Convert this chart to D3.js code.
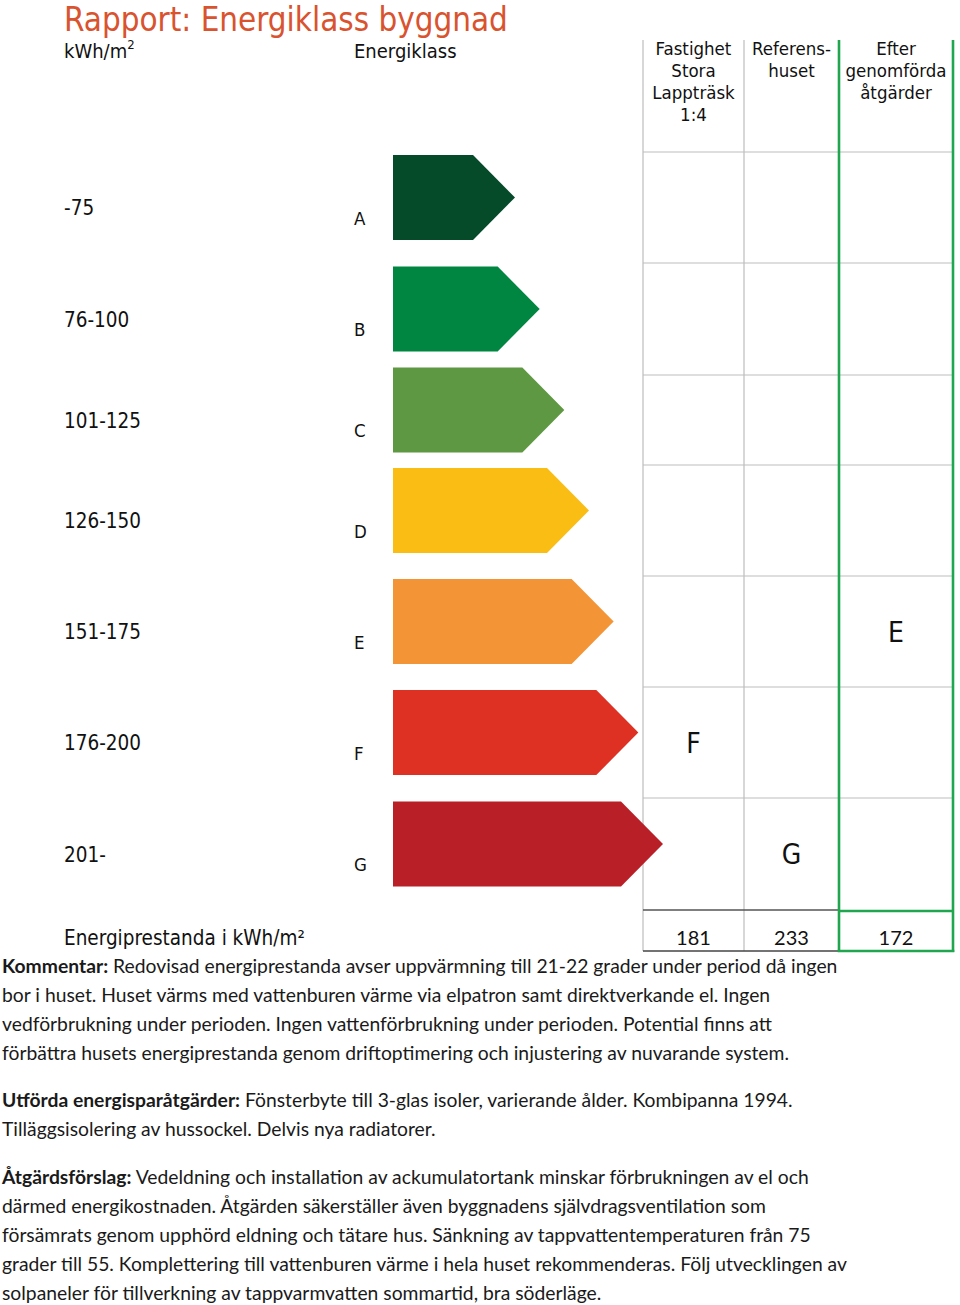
<!DOCTYPE html>
<html><head><meta charset="utf-8">
<script src="https://cdn.jsdelivr.net/npm/d3@7"></script>
<style>
html,body{margin:0;padding:0;background:#fff;}
svg{display:block;}
</style></head>
<body>
<script>
// ---------- DATA ----------
const classes = ["A","B","C","D","E","F","G"];
const rangeLabels = ["-75","76-100","101-125","126-150","151-175","176-200","201-"];
const thresholds = [76,101,126,151,176,201];
const classColors = ["#054a29","#008641","#5f9842","#f9bd14","#f39437","#de3023","#b91f26"];
const columns = [["Fastighet","Stora","Lappträsk","1:4"],["Referens-","huset"],["Efter","genomförda","åtgärder"]];
const values = [181, 233, 172];
const title = "Rapport: Energiklass byggnad";
const bodyParas = [
  [["Kommentar:", " Redovisad energiprestanda avser uppvärmning till 21-22 grader under period då ingen"],
   ["", "bor i huset. Huset värms med vattenburen värme via elpatron samt direktverkande el.  Ingen"],
   ["", "vedförbrukning under perioden. Ingen vattenförbrukning under perioden. Potential finns att"],
   ["", "förbättra husets energiprestanda genom driftoptimering och injustering av nuvarande system."]],
  [["Utförda energisparåtgärder:", " Fönsterbyte till 3-glas isoler, varierande ålder. Kombipanna 1994."],
   ["", "Tilläggsisolering av hussockel. Delvis nya radiatorer."]],
  [["Åtgärdsförslag:", " Vedeldning och installation av ackumulatortank minskar förbrukningen av el och"],
   ["", "därmed energikostnaden. Åtgärden säkerställer även byggnadens självdragsventilation som"],
   ["", "försämrats genom upphörd eldning och tätare hus. Sänkning av tappvattentemperaturen från 75"],
   ["", "grader till 55. Komplettering till vattenburen värme i hela huset rekommenderas. Följ utvecklingen av"],
   ["", "solpaneler för tillverkning av tappvarmvatten sommartid, bra söderläge."]]
];

// ---------- LAYOUT ----------
const W = 960, H = 1305;
const hdrFont = "'DejaVu Sans Condensed','DejaVu Sans',sans-serif";
const bodyFont = "Lato,'Liberation Sans',sans-serif";
const gridGray = "#bdbdbd", green = "#1fa64e";
const tableTop = 152;
const rowHeights = [111, 112, 90, 111, 111, 111, 112];   // table row heights (row C is shorter)

const svg = d3.select("body").append("svg").attr("width", W).attr("height", H);

const rowStarts = [tableTop, ...d3.cumsum(rowHeights).map(v => tableTop + v)];
const rowTop = d3.scaleOrdinal().domain(classes).range(rowStarts.slice(0, -1));
const rowH = d3.scaleOrdinal().domain(classes).range(rowHeights);
const rowMid = c => rowTop(c) + rowH(c) / 2;
const tableBottom = rowStarts[rowStarts.length - 1];
const tipX = d3.scaleLinear().domain([0, classes.length - 1]).range([515, 663]);
const classOf = d3.scaleThreshold().domain(thresholds).range(classes);
const colEdges = [643, 744, 839, 953];
const colCenter = i => (colEdges[i] + colEdges[i+1]) / 2;

function fitWidth(sel, target) {
  const w = sel.node().getComputedTextLength();
  const fs = +sel.attr("font-size");
  sel.attr("font-size", fs * target / w);
}

// Title
const t = svg.append("text").attr("x", 64).attr("y", 31)
  .attr("font-family", hdrFont).attr("font-size", 34).attr("fill", "#d9532f").text(title);
fitWidth(t, 444);

// sub headers
const k = svg.append("text").attr("x", 64).attr("y", 58).attr("font-family", hdrFont)
  .attr("font-size", 20).attr("fill", "#111");
k.append("tspan").text("kWh/m");
k.append("tspan").attr("dy", -9).attr("font-size", 13).text("2");
svg.append("text").attr("x", 354).attr("y", 58).attr("font-family", hdrFont)
  .attr("font-size", 20).attr("fill", "#111").text("Energiklass");

// Table grid
const g = svg.append("g");
g.selectAll("line.h").data(rowStarts.slice(0, -1)).join("line")
  .attr("x1", colEdges[0]).attr("x2", colEdges[3]).attr("y1", d => d).attr("y2", d => d)
  .attr("stroke", gridGray).attr("stroke-width", 1.2);
g.selectAll("line.v").data([colEdges[0], colEdges[1]]).join("line")
  .attr("x1", d => d).attr("x2", d => d).attr("y1", 40).attr("y2", 951)
  .attr("stroke", gridGray).attr("stroke-width", 1.2);
g.append("line").attr("x1", colEdges[0]).attr("x2", colEdges[2]).attr("y1", tableBottom).attr("y2", tableBottom)
  .attr("stroke", "#555").attr("stroke-width", 1.3);
g.append("line").attr("x1", colEdges[0]).attr("x2", colEdges[2]).attr("y1", 951).attr("y2", 951)
  .attr("stroke", "#444").attr("stroke-width", 1.3);
g.append("line").attr("x1", colEdges[2]).attr("x2", colEdges[2]).attr("y1", 40).attr("y2", 952)
  .attr("stroke", green).attr("stroke-width", 2.6);
g.append("line").attr("x1", colEdges[3]).attr("x2", colEdges[3]).attr("y1", 40).attr("y2", 952)
  .attr("stroke", green).attr("stroke-width", 2.6);
g.append("line").attr("x1", colEdges[2]).attr("x2", colEdges[3]).attr("y1", tableBottom + 1).attr("y2", tableBottom + 1)
  .attr("stroke", green).attr("stroke-width", 2.6);
g.append("line").attr("x1", colEdges[2]-1.3).attr("x2", colEdges[3]+1.3).attr("y1", 951).attr("y2", 951)
  .attr("stroke", green).attr("stroke-width", 2.6);

// column headers
columns.forEach((lines, i) => {
  const tx = svg.append("text").attr("font-family", hdrFont).attr("font-size", 18.5)
    .attr("fill", "#111").attr("text-anchor", "middle");
  lines.forEach((l, j) => tx.append("tspan").attr("x", colCenter(i)).attr("y", 55 + j * 22).text(l));
});

// Arrows
const arrowH = 85, depth = 42, leftX = 393;
svg.append("g").selectAll("path").data(classes).join("path")
  .attr("d", (c, i) => {
    const mid = rowMid(c) - 10, top = mid - arrowH / 2, bot = mid + arrowH / 2, tip = tipX(i);
    return `M${leftX},${top}H${tip - depth}L${tip},${mid}L${tip - depth},${bot}H${leftX}Z`;
  })
  .attr("fill", (c, i) => classColors[i]);

// range labels and letters
svg.append("g").selectAll("text").data(rangeLabels).join("text")
  .attr("x", 64).attr("y", (d, i) => rowMid(classes[i]) + 7.5)
  .attr("font-family", hdrFont).attr("font-size", 20.5).attr("fill", "#111").text(d => d);
svg.append("g").selectAll("text").data(classes).join("text")
  .attr("x", 354).attr("y", c => rowMid(c) + 17)
  .attr("font-family", hdrFont).attr("font-size", 18.5).attr("fill", "#111").text(c => c);

// class letters in table
svg.append("g").selectAll("text").data(values).join("text")
  .attr("x", (v, i) => colCenter(i)).attr("y", v => rowMid(classOf(v)) + 10)
  .attr("text-anchor", "middle").attr("font-family", hdrFont).attr("font-size", 28)
  .attr("fill", "#111").text(v => classOf(v));

// values row
svg.append("g").selectAll("text").data(values).join("text")
  .attr("x", (v, i) => colCenter(i)).attr("y", 945)
  .attr("text-anchor", "middle").attr("font-family", bodyFont).attr("font-size", 20)
  .attr("fill", "#111").text(v => v);
svg.append("text").attr("x", 64).attr("y", 945).attr("font-family", hdrFont)
  .attr("font-size", 20.5).attr("fill", "#111").text("Energiprestanda i kWh/m²");

// Body text
const lineStarts = [973, 1107, 1184];
const lineH = 29;
const bodyG = svg.append("g");
const allLines = [];
bodyParas.forEach((para, p) => {
  para.forEach((ln, j) => {
    const tx = bodyG.append("text").attr("x", 2).attr("y", lineStarts[p] + j * lineH)
      .attr("font-family", bodyFont).attr("font-size", 18).attr("fill", "#1a1a1a");
    if (ln[0]) tx.append("tspan").attr("font-weight", "bold").text(ln[0]);
    tx.append("tspan").text(ln[1]);
    allLines.push(tx);
  });
});
const w0 = allLines[0].node().getComputedTextLength();
const bodySize = 18 * 836 / w0;
allLines.forEach(tx => tx.attr("font-size", bodySize));
</script>
</body></html>
